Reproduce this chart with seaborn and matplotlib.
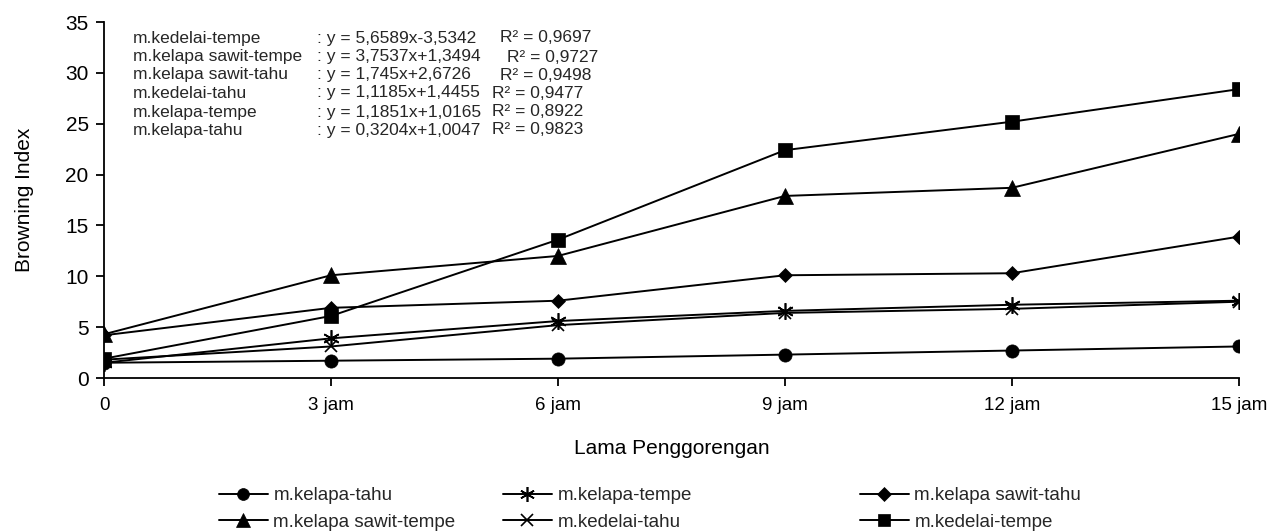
import matplotlib
matplotlib.use("Agg")
import matplotlib.pyplot as plt
import seaborn as sns
import pandas as pd
from matplotlib.lines import Line2D

# ---- data ----
time_labels = ["0", "3 jam", "6 jam", "9 jam", "12 jam", "15 jam"]
kelapa_tahu = [1.5, 1.7, 1.9, 2.3, 2.7, 3.1]
kelapa_tempe = [1.5, 3.9, 5.6, 6.6, 7.2, 7.6]
kelapa_sawit_tahu = [4.2, 6.9, 7.6, 10.1, 10.3, 13.9]
kelapa_sawit_tempe = [4.3, 10.1, 12.0, 17.9, 18.7, 24.0]
kedelai_tahu = [1.8, 3.1, 5.2, 6.4, 6.8, 7.5]
kedelai_tempe = [1.9, 6.1, 13.6, 22.4, 25.2, 28.4]

series_names = ["m.kelapa-tahu", "m.kelapa-tempe", "m.kelapa sawit-tahu",
                "m.kelapa sawit-tempe", "m.kedelai-tahu", "m.kedelai-tempe"]
series_values = [kelapa_tahu, kelapa_tempe, kelapa_sawit_tahu,
                 kelapa_sawit_tempe, kedelai_tahu, kedelai_tempe]

eq_names = ["m.kedelai-tempe", "m.kelapa sawit-tempe", "m.kelapa sawit-tahu",
            "m.kedelai-tahu", "m.kelapa-tempe", "m.kelapa-tahu"]
eq_texts = [": y = 5,6589x-3,5342", ": y = 3,7537x+1,3494", ": y = 1,745x+2,6726",
            ": y = 1,1185x+1,4455", ": y = 1,1851x+1,0165", ": y = 0,3204x+1,0047"]
r2_texts = ["R² = 0,9697", "R² = 0,9727", "R² = 0,9498",
            "R² = 0,9477", "R² = 0,8922", "R² = 0,9823"]

# ---- style ----
sns.set_theme(style="ticks")
plt.rcParams["font.family"] = ["Liberation Sans", "DejaVu Sans"]

markers = {
    "m.kelapa-tahu": ("o", 9.5),
    "m.kelapa-tempe": ((6, 2, 0), 12),
    "m.kelapa sawit-tahu": ("D", 7.5),
    "m.kelapa sawit-tempe": ("^", 11),
    "m.kedelai-tahu": ("x", 9),
    "m.kedelai-tempe": ("s", 10),
}

W, H = 1287, 532
fig = plt.figure(figsize=(W / 100, H / 100), dpi=100)
ax = fig.add_axes([104 / W, 1 - 378 / H, (1239 - 104) / W, (378 - 22) / H])

x_pos = list(range(len(time_labels)))
handles = {}
for name, vals in zip(series_names, series_values):
    m, ms = markers[name]
    mew = 1.2 if m in ("x", (6, 2, 0)) else 0.5
    df = pd.DataFrame({"x": x_pos, "y": vals})
    sns.lineplot(data=df, x="x", y="y", ax=ax, color="black", linewidth=1.4,
                 marker=m, markersize=ms, markeredgecolor="black",
                 markerfacecolor="black", markeredgewidth=mew, legend=False)
    handles[name] = Line2D([], [], color="black", linewidth=1.4, marker=m,
                           markersize=ms * 0.9, markerfacecolor="black",
                           markeredgecolor="black", markeredgewidth=mew)

ax.set_xlim(0, 5)
ax.set_ylim(0, 35)
ax.set_xticks(x_pos)
ax.set_xticklabels(time_labels)
ax.set_yticks(range(0, 36, 5))
for s in ["top", "right"]:
    ax.spines[s].set_visible(False)
for s in ["left", "bottom"]:
    ax.spines[s].set_color("black")
    ax.spines[s].set_linewidth(1.3)
ax.tick_params(axis="both", direction="out", length=6, width=1.3, color="black",
               labelcolor="black", pad=6)
ax.tick_params(axis="x", labelsize=13.5, pad=8)
ax.tick_params(axis="y", labelsize=15, pad=5)
ax.set_xlabel("Lama Penggorengan", fontsize=15, color="black", labelpad=18)
ax.set_ylabel("Browning Index", fontsize=15, color="black", labelpad=12)
ax.yaxis.set_label_coords(-70 / (1239 - 104), 0.5)
ax.grid(False)

# ---- equation annotations ----
row_y = [38, 57, 75, 93, 112, 130]
r2_x = [500, 507, 500, 492, 492, 492]
for i in range(6):
    yy = 1 - row_y[i] / H
    fig.text(133 / W, yy, eq_names[i], fontsize=12.5, va="center", ha="left")
    fig.text(317 / W, yy, eq_texts[i], fontsize=12.5, va="center", ha="left")
    fig.text(r2_x[i] / W, yy, r2_texts[i], fontsize=12.5, va="center", ha="left")

# ---- legend: three columns ----
cols = [["m.kelapa-tahu", "m.kelapa sawit-tempe"],
        ["m.kelapa-tempe", "m.kedelai-tahu"],
        ["m.kelapa sawit-tahu", "m.kedelai-tempe"]]
col_x = [219, 503, 860]
for cx, names in zip(col_x, cols):
    fig.legend([handles[n] for n in names], names, loc="upper left",
               bbox_to_anchor=(cx / W, 1 - 487 / H), frameon=False,
               fontsize=13.5, handlelength=2.6, handletextpad=0.3,
               borderpad=0, borderaxespad=0, labelspacing=0.5)

fig.savefig("out.png", dpi=100)
